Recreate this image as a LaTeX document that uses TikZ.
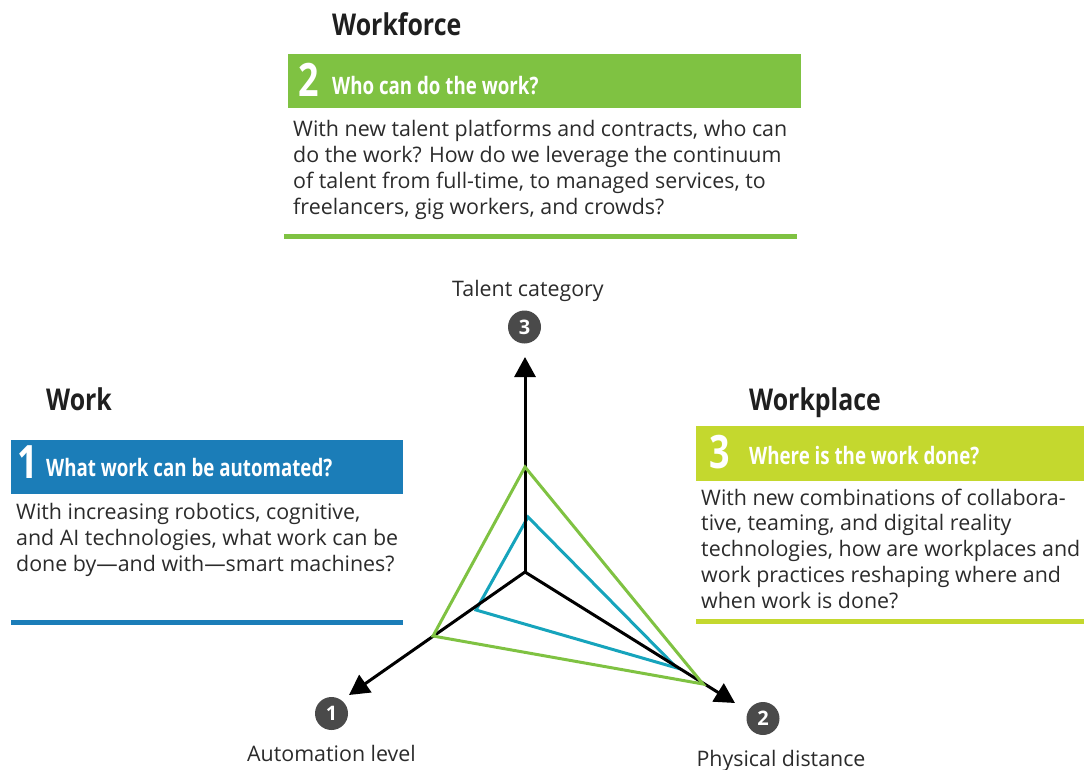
\documentclass[tikz,border=0pt]{standalone}
\usepackage{fontspec}
\setmainfont{Open Sans}
\newfontfamily\condfont[FakeStretch=0.78]{Open Sans}
\newfontfamily\headfont[FakeStretch=0.83]{Open Sans}
\usetikzlibrary{arrows.meta}
\definecolor{wfgreen}{HTML}{7FC242}
\definecolor{wkblue}{HTML}{1B7DB8}
\definecolor{wplime}{HTML}{C4D82E}
\definecolor{teal}{HTML}{16A4BC}
\definecolor{bodytxt}{HTML}{2B2B2B}
\definecolor{dotgray}{HTML}{4A4A4A}
\tikzset{
  heading/.style={anchor=base west, inner sep=0pt, font=\headfont\bfseries\fontsize{30}{36}\selectfont, text=black!88},
  bignum/.style={anchor=base west, inner sep=0pt, font=\condfont\bfseries\fontsize{46}{50}\selectfont, text=white},
  boxtitle/.style={anchor=base west, inner sep=0pt, font=\condfont\bfseries\fontsize{24}{28}\selectfont, text=white},
  bodytext/.style={anchor=base west, inner sep=0pt, align=left, font=\fontsize{21.4}{25.7}\selectfont, text=bodytxt},
  axislabel/.style={anchor=base, inner sep=0pt, font=\fontsize{21.4}{25}\selectfont, text=bodytxt},
  numdot/.style={circle, fill=dotgray, minimum size=33pt, inner sep=0pt, text=white, font=\bfseries\fontsize{20}{20}\selectfont},
  axis/.style={line width=3pt, -{Triangle[length=20pt,width=21pt]}},
  poly/.style={line width=3pt, line join=miter},
}
\begin{document}
\begin{tikzpicture}[x=1pt,y=-1pt]
\path[use as bounding box] (0,0) rectangle (1084,769);

% ---- Workforce (top) ----
\node[heading] (hwf) at (332,35) {Workforce};
\fill[wfgreen] (288,54) rectangle (801,108);
\node[bignum] (n2) at (298,96) {2};
\node[boxtitle] (twf) at (332,94) {Who can do the work?};
% base anchor = baseline of last line
\node[bodytext] (bwf) at (293,214) {With new talent platforms and contracts, who can\\do the work? How do we leverage the continuum\\of talent from full-time, to managed services, to\\freelancers, gig workers, and crowds?};
\fill[wfgreen] (284,234) rectangle (797,239);

% ---- Work (left) ----
\node[heading] (hwk) at (46,410) {Work};
\fill[wkblue] (11,440) rectangle (403,494);
\node[bignum] (n1) at (17,478) {1};
\node[boxtitle] (twk) at (46,476) {What work can be automated?};
\node[bodytext] (bwk) at (16,571) {With increasing robotics, cognitive,\\and AI technologies, what work can be\\done by---and with---smart machines?};
\fill[wkblue] (11,620) rectangle (403,625);

% ---- Workplace (right) ----
\node[heading] (hwp) at (749,410) {Workplace};
\fill[wplime] (696,426) rectangle (1084,481);
\node[bignum] (n3) at (709,468) {3};
\node[boxtitle] (twp) at (749,464) {Where is the work done?};
\node[bodytext] (bwp) at (701,608) {With new combinations of collabora-\\tive, teaming, and digital reality\\technologies, how are workplaces and\\work practices reshaping where and\\when work is done?};
\fill[wplime] (696,619) rectangle (1084,624);

% ---- radar chart ----
\coordinate (O) at (525,572);
\coordinate (up) at (525,357);
\coordinate (lf) at (349,695);
\coordinate (rt) at (735,703);
\coordinate (g1) at (525,467);
\coordinate (g2) at (433,636);
\coordinate (g3) at (703,684);
\coordinate (b1) at (528,517);
\coordinate (b2) at (476,610);
\coordinate (b3) at (677,668);

\draw[poly, teal] (b1) -- (b2) -- (b3) -- cycle;
\draw[axis] (O) -- (up);
\draw[axis] (O) -- (lf);
\draw[axis] (O) -- (rt);
\draw[poly, wfgreen] (g1) -- (g2) -- (g3) -- cycle;

\node[numdot] (c3) at (524.5,327) {3};
\node[numdot] (c1) at (331.5,713.5) {1};
\node[numdot] (c2) at (763,718.5) {2};
\node[axislabel] (l3) at (528,296) {Talent category};
\node[axislabel] (l1) at (331.5,761) {Automation level};
\node[axislabel] (l2) at (781,766) {Physical distance};
\end{tikzpicture}
\end{document}
